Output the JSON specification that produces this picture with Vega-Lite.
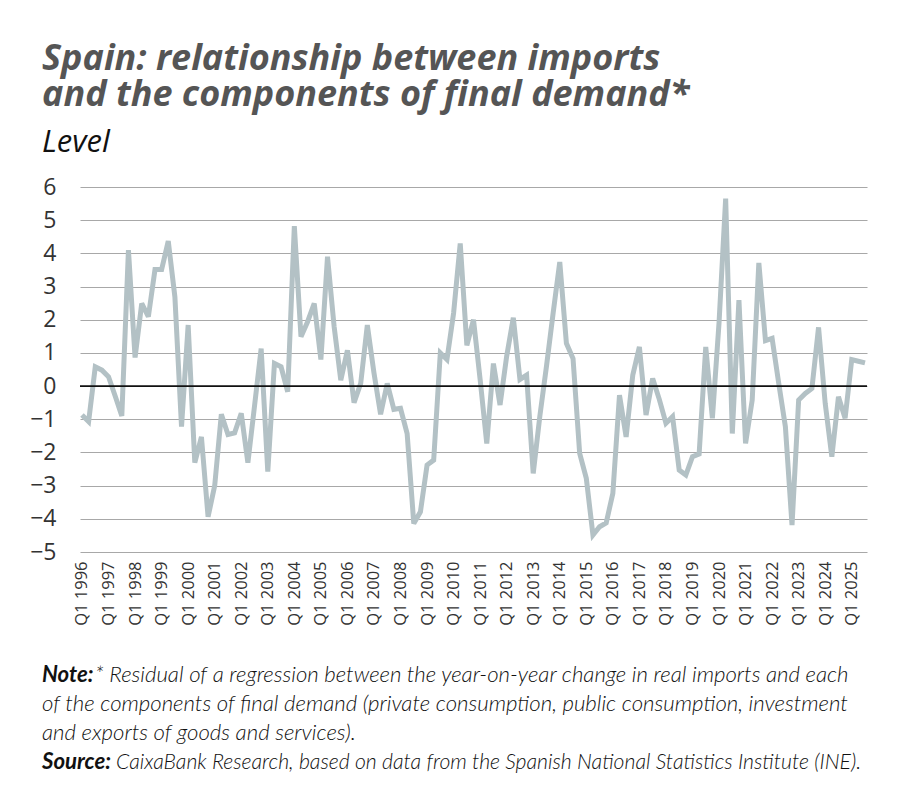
{
  "$schema": "https://vega.github.io/schema/vega-lite/v6.json",
  "width": 787,
  "height": 365,
  "autosize": "none",
  "padding": {"left": 80, "top": 187, "right": 33, "bottom": 241},
  "background": "white",
  "config": {
    "view": {"stroke": null},
    "font": "Open Sans",
    "axisY": {
      "values": [-5, -4, -3, -2, -1, 0, 1, 2, 3, 4, 5, 6],
      "labelFont": "Open Sans",
      "labelFontSize": 23,
      "labelColor": "#333333",
      "labelPadding": 24,
      "labelOverlap": false,
      "labelBound": false,
      "ticks": false,
      "domain": false,
      "grid": true,
      "gridColor": "#a8a8a8",
      "gridWidth": 1.2,
      "title": null
    }
  },
  "title": {
    "text": ["Spain: relationship between imports", "and the components of final demand*"],
    "subtitle": "Level",
    "anchor": "start",
    "frame": "group",
    "dx": -38,
    "font": "Open Sans",
    "fontSize": 36,
    "fontWeight": "bold",
    "fontStyle": "italic",
    "color": "#555555",
    "lineHeight": 36,
    "subtitleFont": "Open Sans",
    "subtitleFontSize": 31,
    "subtitleFontStyle": "italic",
    "subtitleColor": "#111111",
    "subtitlePadding": 14,
    "offset": 17
  },
  "datasets": {
    "resid": [
      {"q": "Q1 1996", "v": -0.87}, {"q": "Q2 1996", "v": -1.07}, {"q": "Q3 1996", "v": 0.58}, {"q": "Q4 1996", "v": 0.48},
      {"q": "Q1 1997", "v": 0.28}, {"q": "Q2 1997", "v": -0.3}, {"q": "Q3 1997", "v": -0.9}, {"q": "Q4 1997", "v": 4.1},
      {"q": "Q1 1998", "v": 0.86}, {"q": "Q2 1998", "v": 2.49}, {"q": "Q3 1998", "v": 2.09}, {"q": "Q4 1998", "v": 3.51},
      {"q": "Q1 1999", "v": 3.51}, {"q": "Q2 1999", "v": 4.37}, {"q": "Q3 1999", "v": 2.69}, {"q": "Q4 1999", "v": -1.22},
      {"q": "Q1 2000", "v": 1.84}, {"q": "Q2 2000", "v": -2.31}, {"q": "Q3 2000", "v": -1.53}, {"q": "Q4 2000", "v": -3.94},
      {"q": "Q1 2001", "v": -3.0}, {"q": "Q2 2001", "v": -0.85}, {"q": "Q3 2001", "v": -1.46}, {"q": "Q4 2001", "v": -1.41},
      {"q": "Q1 2002", "v": -0.82}, {"q": "Q2 2002", "v": -2.31}, {"q": "Q3 2002", "v": -0.6}, {"q": "Q4 2002", "v": 1.13},
      {"q": "Q1 2003", "v": -2.58}, {"q": "Q2 2003", "v": 0.68}, {"q": "Q3 2003", "v": 0.58}, {"q": "Q4 2003", "v": -0.17},
      {"q": "Q1 2004", "v": 4.82}, {"q": "Q2 2004", "v": 1.49}, {"q": "Q3 2004", "v": 1.94}, {"q": "Q4 2004", "v": 2.49},
      {"q": "Q1 2005", "v": 0.8}, {"q": "Q2 2005", "v": 3.9}, {"q": "Q3 2005", "v": 1.79}, {"q": "Q4 2005", "v": 0.18},
      {"q": "Q1 2006", "v": 1.08}, {"q": "Q2 2006", "v": -0.5}, {"q": "Q3 2006", "v": 0.08}, {"q": "Q4 2006", "v": 1.84},
      {"q": "Q1 2007", "v": 0.4}, {"q": "Q2 2007", "v": -0.85}, {"q": "Q3 2007", "v": 0.08}, {"q": "Q4 2007", "v": -0.7},
      {"q": "Q1 2008", "v": -0.67}, {"q": "Q2 2008", "v": -1.43}, {"q": "Q3 2008", "v": -4.14}, {"q": "Q4 2008", "v": -3.79},
      {"q": "Q1 2009", "v": -2.38}, {"q": "Q2 2009", "v": -2.23}, {"q": "Q3 2009", "v": 1.0}, {"q": "Q4 2009", "v": 0.8},
      {"q": "Q1 2010", "v": 2.2}, {"q": "Q2 2010", "v": 4.3}, {"q": "Q3 2010", "v": 1.23}, {"q": "Q4 2010", "v": 2.0},
      {"q": "Q1 2011", "v": 0.2}, {"q": "Q2 2011", "v": -1.73}, {"q": "Q3 2011", "v": 0.68}, {"q": "Q4 2011", "v": -0.57},
      {"q": "Q1 2012", "v": 0.9}, {"q": "Q2 2012", "v": 2.06}, {"q": "Q3 2012", "v": 0.2}, {"q": "Q4 2012", "v": 0.33},
      {"q": "Q1 2013", "v": -2.63}, {"q": "Q2 2013", "v": -0.9}, {"q": "Q3 2013", "v": 0.6}, {"q": "Q4 2013", "v": 2.2},
      {"q": "Q1 2014", "v": 3.74}, {"q": "Q2 2014", "v": 1.29}, {"q": "Q3 2014", "v": 0.83}, {"q": "Q4 2014", "v": -2.03},
      {"q": "Q1 2015", "v": -2.78}, {"q": "Q2 2015", "v": -4.49}, {"q": "Q3 2015", "v": -4.24}, {"q": "Q4 2015", "v": -4.12},
      {"q": "Q1 2016", "v": -3.23}, {"q": "Q2 2016", "v": -0.27}, {"q": "Q3 2016", "v": -1.53}, {"q": "Q4 2016", "v": 0.33},
      {"q": "Q1 2017", "v": 1.18}, {"q": "Q2 2017", "v": -0.87}, {"q": "Q3 2017", "v": 0.23}, {"q": "Q4 2017", "v": -0.4},
      {"q": "Q1 2018", "v": -1.12}, {"q": "Q2 2018", "v": -0.92}, {"q": "Q3 2018", "v": -2.53}, {"q": "Q4 2018", "v": -2.68},
      {"q": "Q1 2019", "v": -2.13}, {"q": "Q2 2019", "v": -2.05}, {"q": "Q3 2019", "v": 1.18}, {"q": "Q4 2019", "v": -0.97},
      {"q": "Q1 2020", "v": 1.9}, {"q": "Q2 2020", "v": 5.65}, {"q": "Q3 2020", "v": -1.43}, {"q": "Q4 2020", "v": 2.59},
      {"q": "Q1 2021", "v": -1.73}, {"q": "Q2 2021", "v": -0.42}, {"q": "Q3 2021", "v": 3.71}, {"q": "Q4 2021", "v": 1.37},
      {"q": "Q1 2022", "v": 1.44}, {"q": "Q2 2022", "v": 0.08}, {"q": "Q3 2022", "v": -1.22}, {"q": "Q4 2022", "v": -4.19},
      {"q": "Q1 2023", "v": -0.42}, {"q": "Q2 2023", "v": -0.22}, {"q": "Q3 2023", "v": -0.07}, {"q": "Q4 2023", "v": 1.77},
      {"q": "Q1 2024", "v": -0.52}, {"q": "Q2 2024", "v": -2.13}, {"q": "Q3 2024", "v": -0.32}, {"q": "Q4 2024", "v": -0.97},
      {"q": "Q1 2025", "v": 0.8}, {"q": "Q2 2025", "v": 0.75}, {"q": "Q3 2025", "v": 0.7}
    ]
  },
  "layer": [
    {
      "data": {"name": "resid"},
      "mark": {"type": "line", "color": "#b3c1c5", "strokeWidth": 5, "strokeJoin": "miter", "strokeMiterLimit": 3},
      "encoding": {
        "x": {
          "field": "q",
          "type": "ordinal",
          "sort": null,
          "scale": {"type": "point", "padding": 0.3},
          "axis": {
            "title": null,
            "values": ["Q1 1996", "Q1 1997", "Q1 1998", "Q1 1999", "Q1 2000", "Q1 2001", "Q1 2002", "Q1 2003", "Q1 2004", "Q1 2005", "Q1 2006", "Q1 2007", "Q1 2008", "Q1 2009", "Q1 2010", "Q1 2011", "Q1 2012", "Q1 2013", "Q1 2014", "Q1 2015", "Q1 2016", "Q1 2017", "Q1 2018", "Q1 2019", "Q1 2020", "Q1 2021", "Q1 2022", "Q1 2023", "Q1 2024", "Q1 2025"],
            "labelAngle": -90,
            "labelFont": "Open Sans",
            "labelFontSize": 16.5,
            "labelColor": "#333333",
            "labelPadding": 9,
            "labelOverlap": false,
            "ticks": false,
            "domain": false,
            "grid": false
          }
        },
        "y": {
          "field": "v",
          "type": "quantitative",
          "scale": {"domain": [-5, 6], "nice": false}
        }
      }
    },
    {
      "data": {"values": [{"zero": 0}]},
      "mark": {"type": "rule", "color": "#111111", "strokeWidth": 1.6},
      "encoding": {"y": {"field": "zero", "type": "quantitative"}}
    },
    {
      "data": {"values": [{}]},
      "mark": {"type": "text", "align": "left", "baseline": "alphabetic", "font": "Lato", "fontSize": 22.2, "fontStyle": "italic", "fontWeight": "bold", "color": "#111111"},
      "encoding": {"x": {"value": -38}, "y": {"value": 495}, "text": {"value": "Note:"}}
    },
    {
      "data": {"values": [{}]},
      "mark": {"type": "text", "align": "left", "baseline": "alphabetic", "font": "Lato", "fontSize": 22.2, "fontStyle": "italic", "fontWeight": 300, "color": "#111111"},
      "encoding": {"x": {"value": 15}, "y": {"value": 495}, "text": {"value": "* Residual of a regression between the year-on-year change in real imports and each"}}
    },
    {
      "data": {"values": [{}]},
      "mark": {"type": "text", "align": "left", "baseline": "alphabetic", "font": "Lato", "fontSize": 22.2, "fontStyle": "italic", "fontWeight": 300, "color": "#111111", "lineBreak": "\n", "lineHeight": 29},
      "encoding": {"x": {"value": -38}, "y": {"value": 524}, "text": {"value": "of the components of final demand (private consumption, public consumption, investment\nand exports of goods and services)."}}
    },
    {
      "data": {"values": [{}]},
      "mark": {"type": "text", "align": "left", "baseline": "alphabetic", "font": "Lato", "fontSize": 22.2, "fontStyle": "italic", "fontWeight": "bold", "color": "#111111"},
      "encoding": {"x": {"value": -38}, "y": {"value": 582}, "text": {"value": "Source:"}}
    },
    {
      "data": {"values": [{}]},
      "mark": {"type": "text", "align": "left", "baseline": "alphabetic", "font": "Lato", "fontSize": 21.2, "fontStyle": "italic", "fontWeight": 300, "color": "#111111"},
      "encoding": {"x": {"value": 36}, "y": {"value": 582}, "text": {"value": "CaixaBank Research, based on data from the Spanish National Statistics Institute (INE)."}}
    }
  ]
}
